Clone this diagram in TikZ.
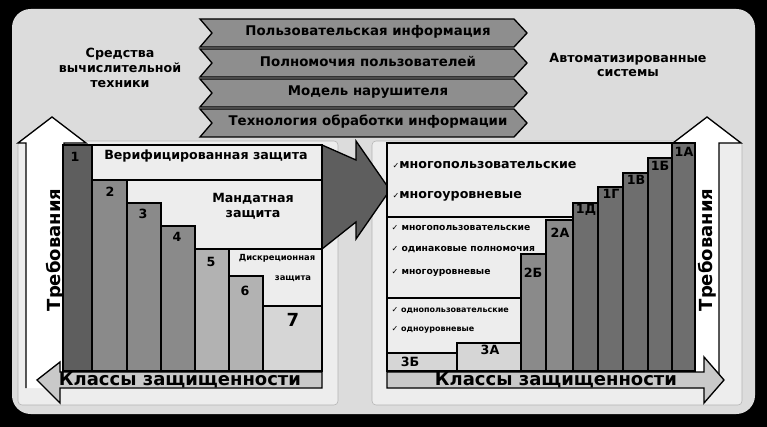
\documentclass[tikz,border=0pt]{standalone}
\usepackage{fontspec}
\setmainfont{DejaVu Sans}
\newfontfamily\symf{DejaVu Sans}
\usetikzlibrary{positioning}
\definecolor{card}{HTML}{DCDCDC}
\definecolor{panel}{HTML}{EDEDED}
\definecolor{chev}{HTML}{8E8E8E}
\definecolor{gdark}{HTML}{5E5E5E}
\definecolor{gmid}{HTML}{8A8A8A}
\definecolor{glight}{HTML}{B2B2B2}
\definecolor{gpale}{HTML}{D6D6D6}
\tikzset{lbl/.style={font=\bfseries\fontsize{9.5}{11}\selectfont, inner sep=1pt},
         chevtxt/.style={font=\bfseries\fontsize{10}{11}\selectfont, inner sep=1pt},
         small/.style={font=\bfseries\fontsize{6.9}{8}\selectfont, inner sep=1pt, anchor=west},
         tiny/.style={font=\bfseries\fontsize{6}{7}\selectfont, inner sep=1pt, anchor=west},
         big/.style={font=\bfseries\fontsize{13.5}{14}\selectfont, inner sep=0pt},
         bar/.style={draw=black, line width=0.8pt},
         zone/.style={draw=black, line width=1pt, fill=panel},
        }
\newcommand{\ck}{{\symf\fontsize{6}{7}\selectfont ✓}}
\begin{document}
\begin{tikzpicture}[x=0.75pt,y=-0.75pt]
        \useasboundingbox (0,0) rectangle (767,427);
        \fill[black](0,0)rectangle(767,427);
        \fill[card,rounded corners=14pt](12,9)rectangle(755,414);
        \fill[panel,draw=gray!60,rounded corners=3pt](18,141)rectangle(338,405);
        \fill[panel,draw=gray!60,rounded corners=3pt](372,141)rectangle(742,405);

        % chevrons
        \foreach \y/\t [count=\i] in {19/Пользовательская информация,49/Полномочия пользователей,
                                   79/Модель нарушителя,109/Технология обработки информации}{
            \filldraw[fill=chev,line width=1pt](200,\y)--(514,\y)--(527,\y+14)--(514,\y+28)
                --(200,\y+28)--(212,\y+14)--cycle;
            \node[chevtxt](ch\i)at(368,\y+13){\t};
        }
        \node[lbl,align=center](svt)at(120,68){Средства\\вычислительной\\техники};
        \node[lbl,align=center](as)at(628,65){Автоматизированные\\системы};

        % left chart
        \filldraw[fill=white,line width=1pt](26,388)--(26,143)--(18,143)--(52,117)--(86,143)--(64,143)--(64,388);
        \node[big,rotate=90](req1)at(55,250){Требования};
        \filldraw[fill=gdark,line width=1pt](322,145)--(356,160)--(356,141)--(390,190)--(356,239)--(356,222)--(322,249)--cycle;
        \draw[zone](63,145)rectangle(322,180);
        \draw[zone](92,180)rectangle(322,249);
        \draw[zone](195,249)rectangle(322,306);
        \filldraw[bar,fill=gdark](63,145)rectangle(92,371);
        \filldraw[bar,fill=gmid](92,180)rectangle(127,371);
        \filldraw[bar,fill=gmid](127,203)rectangle(161,371);
        \filldraw[bar,fill=gmid](161,226)rectangle(195,371);
        \filldraw[bar,fill=glight](195,249)rectangle(229,371);
        \filldraw[bar,fill=glight](229,276)rectangle(263,371);
        \filldraw[bar,fill=gpale](263,306)rectangle(322,371);
        \node[lbl](k1)at(75,157){1};
        \node[lbl](k2)at(110,192){2};
        \node[lbl](k3)at(143,214){3};
        \node[lbl](k4)at(177,237){4};
        \node[lbl](k5)at(211,262){5};
        \node[lbl](k6)at(245,291){6};
        \node[big](k7)at(293,320){7};
        \node[lbl](ver)at(206,156){Верифицированная защита};
        \node[lbl,align=center](man)at(253,206){Мандатная\\защита};
        \node[font=\bfseries\fontsize{6.3}{7}\selectfont](dis)at(277,258){Дискреционная};
        \node[font=\bfseries\fontsize{6.3}{7}\selectfont](dis2)at(293,279){защита};
        \filldraw[fill=glight!70,line width=1pt](322,372)--(60,372)--(60,362)--(37,380)--(60,403)
            --(60,388)--(322,388)--cycle;
        \node[big](cls1)at(180,380){Классы защищенности};

        % right chart
        \filldraw[fill=white,line width=1pt](694,375)--(694,143)--(673,143)--(707,117)--(741,143)--(719,143)--(719,375);
        \node[big,rotate=90](req2)at(707,250){Требования};
        \draw[zone](387,143)rectangle(695,371);
        \draw[zone](387,217)rectangle(573,371);
        \draw[zone](387,298)rectangle(521,371);
        \filldraw[bar,fill=gpale](387,353)rectangle(457,371);
        \filldraw[bar,fill=gpale](457,343)rectangle(521,371);
        \filldraw[bar,fill=gmid](521,254)rectangle(546,371);
        \filldraw[bar,fill=gmid](546,220)rectangle(573,371);
        \foreach \xa/\xb/\yt in {573/598/203,598/623/187,623/648/173,648/672/158,672/695/143}
            \filldraw[bar,fill=gdark!90](\xa,\yt)rectangle(\xb,371);
        \node[lbl](c3b)at(410,362){3Б};
        \node[lbl](c3a)at(490,350){3А};
        \node[lbl](c2b)at(533,273){2Б};
        \node[lbl](c2a)at(560,233){2А};
        \node[lbl](c1d)at(586,210){1Д};
        \node[lbl](c1g)at(611,194){1Г};
        \node[lbl](c1v)at(636,180){1В};
        \node[lbl](c1b)at(660,166){1Б};
        \node[lbl](c1a)at(684,152){1А};
        \node[lbl,anchor=west](m1)at(391,165){\ck многопользовательские};
        \node[lbl,anchor=west](m2)at(391,196){\ck многоуровневые};
        \node[small](n1)at(390,228){\ck\ многопользовательские};
        \node[small](n2)at(390,250){\ck\ одинаковые полномочия};
        \node[small](n3)at(390,273){\ck\ многоуровневые};
        \node[tiny](o1)at(390,311){\ck\ однопользовательские};
        \node[tiny](o2)at(390,330){\ck\ одноуровневые};
        \filldraw[fill=glight!70,line width=1pt](387,372)--(704,372)--(704,357)--(724,380)--(704,403)
            --(704,388)--(387,388)--cycle;
        \node[big](cls2)at(556,380){Классы защищенности};
\end{tikzpicture}
\end{document}
